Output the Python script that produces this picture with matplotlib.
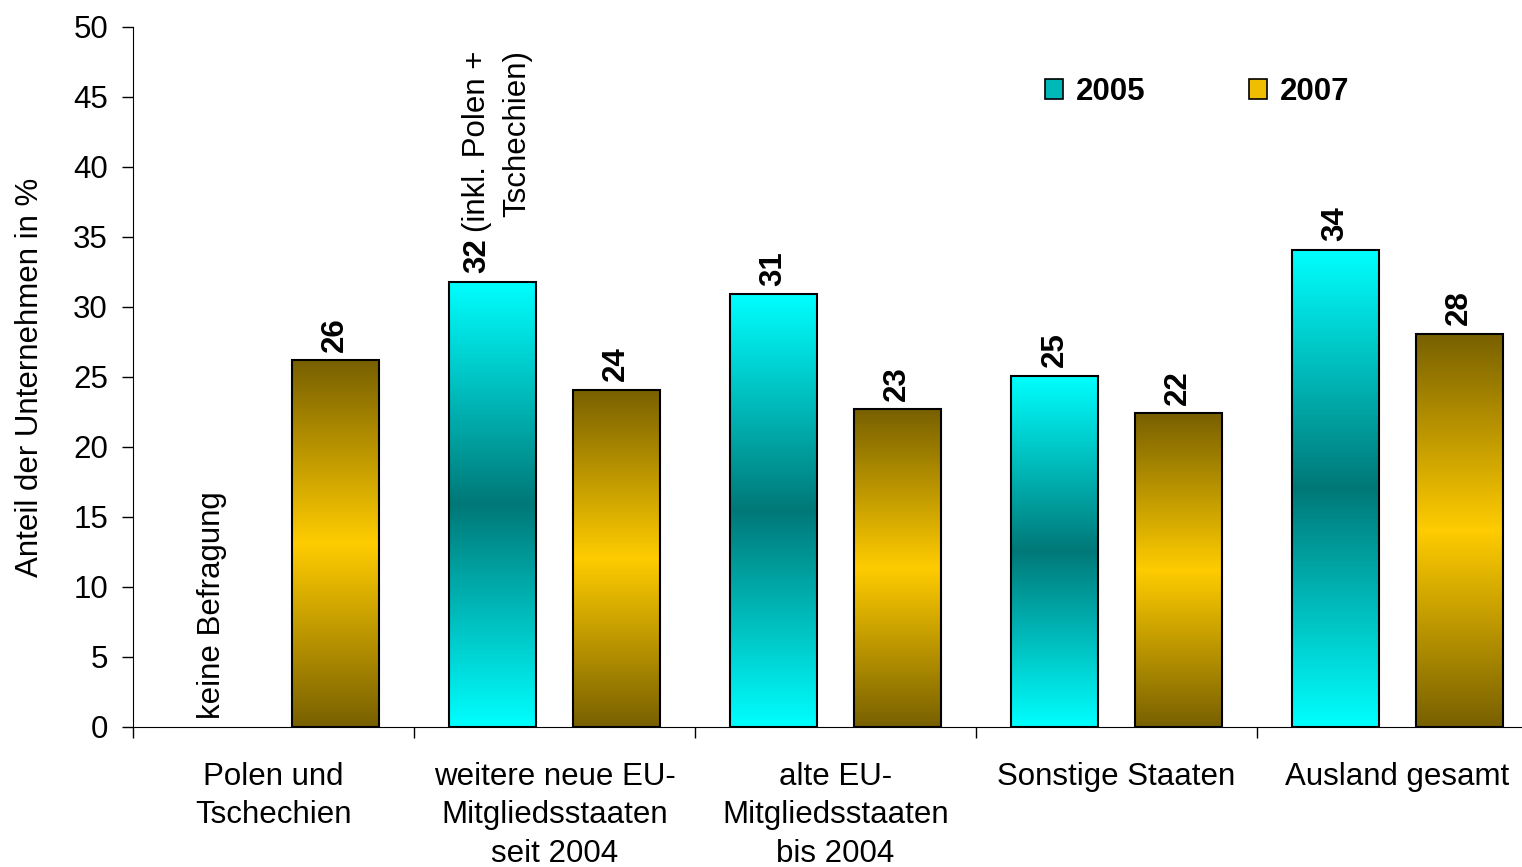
import matplotlib.pyplot as plt
import numpy as np
from matplotlib.colors import LinearSegmentedColormap
from matplotlib.patches import Patch

plt.rcParams["font.family"] = ["Liberation Sans", "DejaVu Sans"]

categories = [
    "Polen und\nTschechien",
    "weitere neue EU-\nMitgliedsstaaten\nseit 2004",
    "alte EU-\nMitgliedsstaaten\nbis 2004",
    "Sonstige Staaten",
    "Ausland gesamt",
]
values_2005 = [np.nan, 31.8, 30.9, 25.1, 34.1]
values_2007 = [26.2, 24.1, 22.7, 22.4, 28.1]
labels_2005 = ["", "32", "31", "25", "34"]
labels_2007 = ["26", "24", "23", "22", "28"]
series_names = ["2005", "2007"]

cmap_2005 = LinearSegmentedColormap.from_list("c05", ["#00FFFF", "#007878", "#00FFFF"])
cmap_2007 = LinearSegmentedColormap.from_list("c07", ["#786000", "#FFCC00", "#786000"])

FS = 22.5
W, H = 1522, 867
fig = plt.figure(figsize=(W / 100, H / 100), dpi=100)
ax = fig.add_axes([133 / W, 140 / H, 1405 / W, 700 / H])

x = np.arange(len(categories))
width = 0.31
off = 0.22


def gradient_bars(bars, cmap):
    grad = np.linspace(0, 1, 256).reshape(-1, 1)
    for b in bars:
        h = b.get_height()
        if not np.isfinite(h) or h <= 0:
            continue
        x0 = b.get_x()
        im = ax.imshow(
            grad,
            cmap=cmap,
            extent=[x0, x0 + b.get_width(), 0, h],
            origin="lower",
            aspect="auto",
            zorder=2,
            interpolation="bilinear",
        )
        im.set_clip_path(b)


bars05 = ax.bar(x - off, values_2005, width, facecolor="none", edgecolor="black", lw=1.5, zorder=3)
bars07 = ax.bar(x + off, values_2007, width, facecolor="none", edgecolor="black", lw=1.5, zorder=3)
gradient_bars(bars05, cmap_2005)
gradient_bars(bars07, cmap_2007)

# value labels
for b, lab in zip(bars07, labels_2007):
    ax.annotate(lab, (b.get_x() + b.get_width() / 2, b.get_height()), xytext=(0, 6),
                textcoords="offset points", rotation=90, ha="center", va="bottom",
                fontsize=FS, fontweight="bold")
for i, (b, lab) in enumerate(zip(bars05, labels_2005)):
    if not lab:
        continue
    if i == 1:
        t32 = ax.annotate(lab, (b.get_x() + b.get_width() / 2, b.get_height()), xytext=(-11, 6),
                          textcoords="offset points", rotation=90, ha="center", va="bottom",
                          fontsize=FS, fontweight="bold")
        t1 = ax.annotate("(inkl. Polen +", (0.5, 1), xycoords=t32, xytext=(0, 5),
                         textcoords="offset points", rotation=90, ha="center", va="bottom",
                         fontsize=FS)
        ax.annotate("Tschechien)", (0.5, 1), xycoords=t1, xytext=(29, 0),
                    textcoords="offset points", rotation=90, ha="center", va="top",
                    fontsize=FS)
    else:
        ax.annotate(lab, (b.get_x() + b.get_width() / 2, b.get_height()), xytext=(0, 6),
                    textcoords="offset points", rotation=90, ha="center", va="bottom",
                    fontsize=FS, fontweight="bold")

ax.text(x[0] - off, 0.6, "keine Befragung", rotation=90, ha="center", va="bottom", fontsize=FS)

ax.set_xlim(-0.5, len(categories) - 0.5)
ax.set_ylim(0, 50)
ax.set_yticks(np.arange(0, 51, 5))
ax.tick_params(axis="y", labelsize=FS, length=8, width=1, pad=10, direction="out")
ax.set_xticks(np.arange(-0.5, len(categories), 1))
ax.set_xticklabels([])
ax.tick_params(axis="x", which="major", length=8, width=1, direction="out")
ax.set_xticks(x, minor=True)
ax.set_xticklabels(categories, minor=True, fontsize=FS, linespacing=1.38)
ax.tick_params(axis="x", which="minor", length=0, pad=25)
ax.set_ylabel("Anteil der Unternehmen in %", fontsize=FS, labelpad=20)
ax.spines["top"].set_visible(False)
ax.spines["right"].set_visible(False)

handles = [
    Patch(facecolor="#00B8B8", edgecolor="black", lw=1.2),
    Patch(facecolor="#F0BE00", edgecolor="black", lw=1.2),
]
fig.legend(handles, series_names, loc="center", bbox_to_anchor=(1197 / W, 1 - 92 / H), ncol=2,
           frameon=False, handlelength=0.6, handleheight=0.6, handletextpad=0.4,
           columnspacing=3.3, prop={"size": FS, "weight": "bold"})

fig.savefig("out.png", dpi=100)
